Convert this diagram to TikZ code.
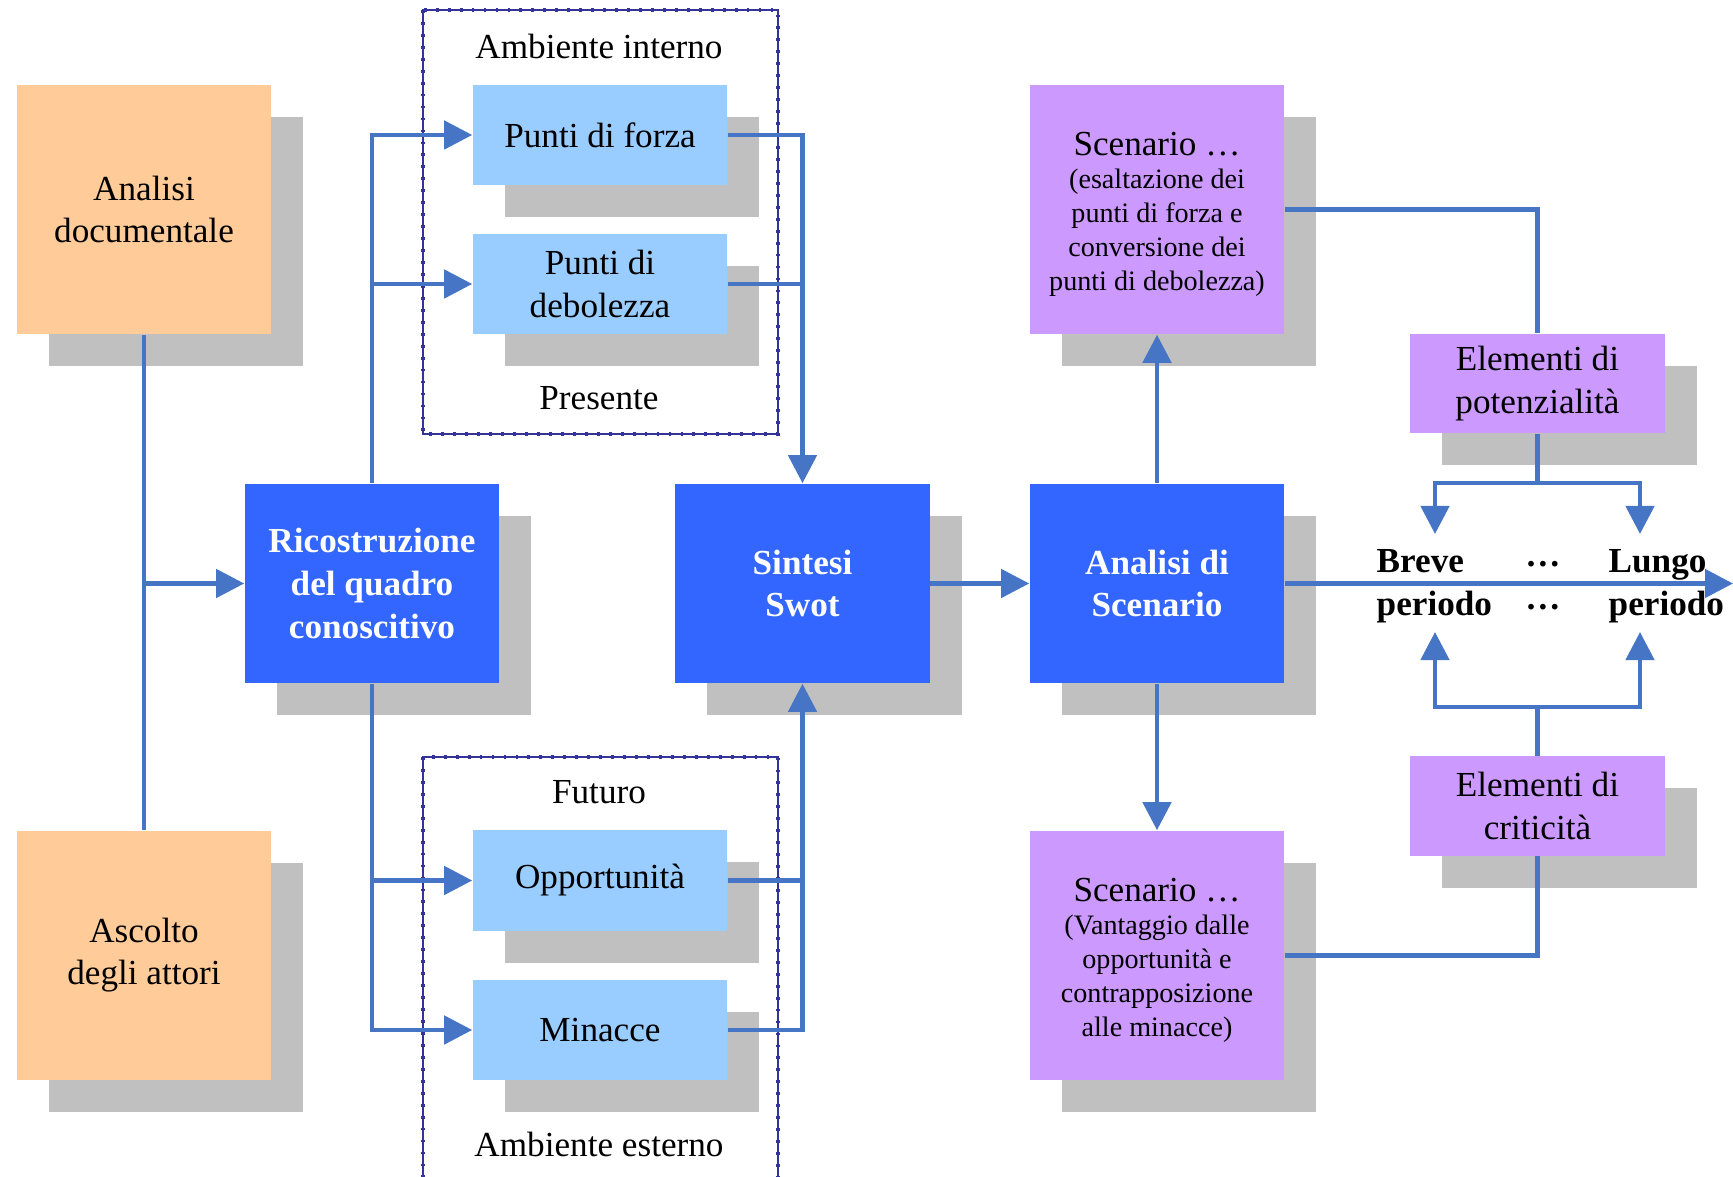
\documentclass[tikz,border=0pt]{standalone}
\usepackage{fontspec}
\setmainfont{Liberation Serif}
\usetikzlibrary{arrows.meta,shadows,calc}
\definecolor{pesca}{HTML}{FFCC99}
\definecolor{bluscuro}{HTML}{3366FF}
\definecolor{azzurro}{HTML}{99CCFF}
\definecolor{lilla}{HTML}{CC99FF}
\definecolor{ombra}{HTML}{C0C0C0}
\definecolor{freccia}{HTML}{4575C4}
\definecolor{cornice}{HTML}{333399}

\tikzset{
  cassa/.style={minimum width=2.54cm, inner sep=1pt, align=center,
    font=\fontsize{10}{12}\selectfont,
    drop shadow={shadow xshift=0.32cm, shadow yshift=-0.32cm, fill=ombra, opacity=1}},
  grande/.style={cassa, fill=pesca, minimum height=2.49cm},
  forte/.style={cassa, fill=bluscuro, text=white, minimum height=1.99cm,
    font=\fontsize{10}{12.2}\selectfont\bfseries},
  chiara/.style={cassa, fill=azzurro, minimum height=1.0cm},
  viola/.style={cassa, fill=lilla, minimum height=2.49cm,
    font=\fontsize{8}{9.7}\selectfont},
  elemento/.style={cassa, fill=lilla, minimum height=0.99cm},
  tempo/.style={font=\fontsize{10}{12.2}\selectfont\bfseries, align=left, inner sep=0pt},
  etichetta/.style={font=\fontsize{10}{12}\selectfont, inner sep=0pt},
  bordo/.style={draw=cornice, line width=0.4pt,
    postaction={draw=cornice, line width=1pt, dash pattern=on 0.8pt off 2.6pt}},
  linea/.style={draw=freccia, line width=1.3pt},
}

\begin{document}
\begin{tikzpicture}[x=0.01cm,y=-0.01cm,>={Triangle[length=2.8mm,width=2.8mm]}]
  \useasboundingbox (0,0) rectangle (1733,1177);

  % cornici ambiente interno / esterno
  \draw[bordo] (423,10) rectangle (778,434);
  \draw[bordo] (423,757) rectangle (778,1185);
  \node[etichetta] (interno)  at (599,46)   {Ambiente interno};
  \node[etichetta] (presente) at (599,398)  {Presente};
  \node[etichetta] (futuro)   at (599,792)  {Futuro};
  \node[etichetta] (esterno)  at (599,1144) {Ambiente esterno};

  % fonti
  \node[grande] (doc)     at (144,209.5) {Analisi\\documentale};
  \node[grande] (ascolto) at (144,955.5) {Ascolto\\degli attori};

  % blocchi principali
  \node[forte] (ricostr) at (372,583.5)  {Ricostruzione\\del quadro\\conoscitivo};
  \node[forte] (swot)    at (802.5,583.5) {Sintesi\\Swot};
  \node[forte] (analisi) at (1157,583.5) {Analisi di\\Scenario};

  % analisi swot
  \node[chiara] (forza)   at (600,135)    {Punti di forza};
  \node[chiara] (debol)   at (600,284)    {Punti di\\debolezza};
  \node[chiara] (opport)  at (600,880.5)  {Opportunità};
  \node[chiara] (minacce) at (600,1030)   {Minacce};

  % scenari
  \node[viola] (scentop) at (1157,209.5)
    {{\fontsize{10}{12}\selectfont\rule{0pt}{9.4pt}Scenario \dots}\\[-0.5pt]
     (esaltazione dei\\punti di forza e\\conversione dei\\punti di debolezza)};
  \node[viola] (scenbot) at (1157,955.5)
    {{\fontsize{10}{12}\selectfont\rule{0pt}{9.4pt}Scenario \dots}\\[-0.5pt]
     (Vantaggio dalle\\opportunità e\\contrapposizione\\alle minacce)};
  \node[elemento] (potenz) at (1537.5,383.5) {Elementi di\\potenzialità};
  \node[elemento] (critic) at (1537.5,806)   {Elementi di\\criticità};

  % orizzonte temporale
  \node[tempo, anchor=west] (breve) at (1376,586) {Breve\\periodo};
  \node[tempo] (medio) at (1543,586) {\dots\\\dots};
  \node[tempo, anchor=west] (lungo) at (1608,586) {Lungo\\periodo};

  \coordinate (fine)   at (1733,583.5);
  \coordinate (bivioA) at (1537.5,483);
  \coordinate (bivioB) at (1537.5,707);
  \coordinate (puntaA1) at (1435,534);
  \coordinate (puntaA2) at (1640,534);
  \coordinate (puntaB1) at (1435,632);
  \coordinate (puntaB2) at (1640,632);

  % collegamenti
  \draw[linea] (doc.south) -- (ascolto.north);
  \draw[linea,->] (doc.south |- ricostr.west) -- (ricostr.west);
  \draw[linea,->] (ricostr.north) |- (forza.west);
  \draw[linea,->] (ricostr.north |- debol.west) -- (debol.west);
  \draw[linea,->] (ricostr.south) |- (minacce.west);
  \draw[linea,->] (ricostr.south |- opport.west) -- (opport.west);
  \draw[linea,->] (forza.east) -| (swot.north);
  \draw[linea] (debol.east) -- (debol.east -| swot.north);
  \draw[linea,->] (minacce.east) -| (swot.south);
  \draw[linea] (opport.east) -- (opport.east -| swot.south);
  \draw[linea,->] (swot.east) -- (analisi.west);
  \draw[linea,->] (analisi.north) -- (scentop.south);
  \draw[linea,->] (analisi.south) -- (scenbot.north);
  \draw[linea,->] (analisi.east) -- (fine);
  \draw[linea] (scentop.east) -| (potenz.north);
  \draw[linea] (scenbot.east) -| (critic.south);
  \draw[linea] (potenz.south) -- (bivioA);
  \draw[linea,->] (bivioA) -| (puntaA1);
  \draw[linea,->] (bivioA) -| (puntaA2);
  \draw[linea] (critic.north) -- (bivioB);
  \draw[linea,->] (bivioB) -| (puntaB1);
  \draw[linea,->] (bivioB) -| (puntaB2);
\end{tikzpicture}
\end{document}
